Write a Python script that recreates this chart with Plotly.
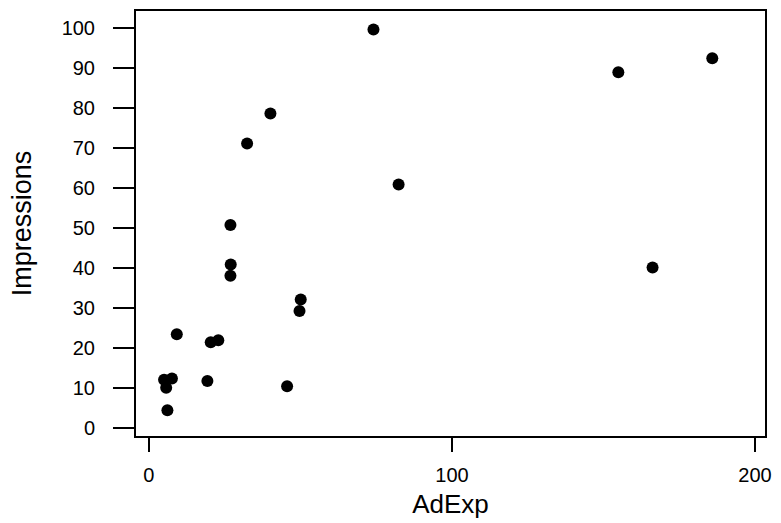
import plotly.graph_objects as go

firms = ["Miller Lite", "Pepsi", "Stroh's", "Federal Express", "Burger King",
         "Coca-Cola", "McDonald's", "MCI", "Diet-Cola", "Ford", "Levi's",
         "Bud Lite", "ATT/Bell", "Calvin Klein", "Wendy's", "Polaroid",
         "Shasta", "Meow Mix", "Oscar Meyer", "Crest", "Kibbles 'n Bits"]
ad_exp = [50.1, 74.1, 19.3, 22.9, 82.4, 40.1, 185.9, 26.9, 20.4, 166.2, 27.0,
          45.6, 154.9, 5.0, 49.7, 26.9, 5.7, 7.6, 9.2, 32.4, 6.1]
impressions = [32.1, 99.6, 11.7, 21.9, 60.8, 78.6, 92.4, 50.7, 21.4, 40.1, 40.8,
               10.4, 88.9, 12.0, 29.2, 38.0, 10.0, 12.3, 23.4, 71.1, 4.4]
x_ticks = [0, 100, 200]
y_ticks = [0, 10, 20, 30, 40, 50, 60, 70, 80, 90, 100]

fig = go.Figure(go.Scatter(
    x=ad_exp, y=impressions, mode="markers", text=firms,
    marker=dict(color="black", size=12, line=dict(width=0)),
))

font = "Liberation Sans, Arial, sans-serif"
fig.update_layout(
    width=781, height=523,
    margin=dict(l=136, r=12, t=9, b=84),
    paper_bgcolor="white", plot_bgcolor="white",
    showlegend=False,
    font=dict(family=font, color="black", size=20),
)
fig.update_xaxes(
    range=[-4.26, 203.3], tickvals=x_ticks, ticktext=[str(v) for v in x_ticks],
    showgrid=False, zeroline=False, showline=True, linecolor="black", linewidth=2,
    mirror=True, ticks="outside", ticklen=14, tickwidth=2, tickcolor="black",
    tickfont=dict(size=20), ticklabelstandoff=6,
    title=dict(text="AdExp", font=dict(size=26), standoff=10),
)
fig.update_yaxes(
    range=[-2.05, 104.2], tickvals=y_ticks, ticktext=[str(v) for v in y_ticks],
    showgrid=False, zeroline=False, showline=True, linecolor="black", linewidth=2,
    mirror=True, ticks="outside", ticklen=21, tickwidth=2, tickcolor="black",
    tickfont=dict(size=20), ticklabelstandoff=14,
    title=dict(text="Impressions", font=dict(size=27), standoff=22),
)
fig.write_html("out.html",
               config={"displayModeBar": False},
               post_script="document.body.style.margin='0';"
                           "document.body.style.overflow='hidden';")
